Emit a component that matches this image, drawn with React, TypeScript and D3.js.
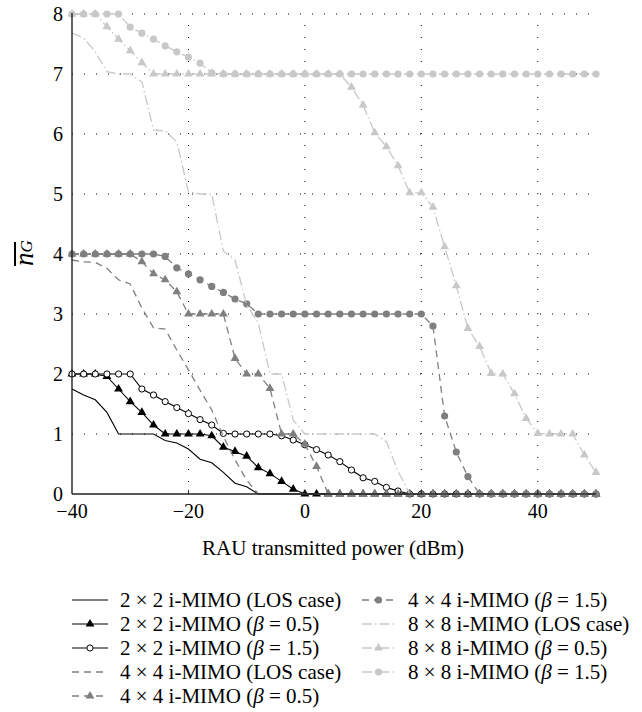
import React from "react";
import * as d3 from "d3";

const svgWidth = 642;
const svgHeight = 712;
const plot = { left: 72, right: 596, top: 14, bottom: 494 };
const font = '"Liberation Serif", "Times New Roman", "DejaVu Serif", serif';

const xScale = d3.scaleLinear([-40, 50], [plot.left, plot.right]);
const yScale = d3.scaleLinear([0, 8], [plot.bottom, plot.top]);

// RAU transmitted power (dBm), one sample every 2 dB
const powers = [
  -40, -38, -36, -34, -32, -30, -28, -26, -24, -22, -20, -18, -16, -14, -12,
  -10, -8, -6, -4, -2, 0, 2, 4, 6, 8, 10, 12, 14, 16, 18, 20, 22, 24, 26, 28,
  30, 32, 34, 36, 38, 40, 42, 44, 46, 48, 50,
];

const xTicks = [-40, -20, 0, 20, 40];
const yTicks = [0, 1, 2, 3, 4, 5, 6, 7, 8];
const xGrid = [-20, 0, 20, 40];
const yGrid = [1, 2, 3, 4, 5, 6, 7, 8];

const mimo2Los = [
  1.75, 1.65, 1.57, 1.36, 1.0, 1.0, 1.0, 1.0, 0.89, 0.85, 0.75, 0.58, 0.52,
  0.36, 0.18, 0.12, 0, 0, 0, 0, 0, 0, 0, 0, 0, 0, 0, 0, 0, 0, 0, 0, 0, 0, 0,
  0, 0, 0, 0, 0, 0, 0, 0, 0, 0, 0,
];
const mimo2B05 = [
  2, 2, 2, 1.96, 1.75, 1.54, 1.36, 1.15, 1.0, 1.0, 1.0, 1.0, 0.97, 0.78, 0.71,
  0.63, 0.44, 0.34, 0.21, 0.08, 0, 0, 0, 0, 0, 0, 0, 0, 0, 0, 0, 0, 0, 0, 0,
  0, 0, 0, 0, 0, 0, 0, 0, 0, 0, 0,
];
const mimo2B15 = [
  2, 2, 2, 2, 2, 2, 1.75, 1.65, 1.54, 1.44, 1.34, 1.24, 1.15, 1.01, 1, 1, 1,
  1, 0.97, 0.9, 0.82, 0.74, 0.65, 0.54, 0.4, 0.27, 0.21, 0.11, 0.05, 0, 0, 0,
  0, 0, 0, 0, 0, 0, 0, 0, 0, 0, 0, 0, 0, 0,
];
const mimo4Los = [
  3.9, 3.87, 3.86, 3.76, 3.57, 3.5, 3.1, 2.77, 2.75, 2.4, 2.07, 1.73, 1.4,
  0.96, 0.57, 0.23, 0, 0, 0, 0, 0, 0, 0, 0, 0, 0, 0, 0, 0, 0, 0, 0, 0, 0, 0,
  0, 0, 0, 0, 0, 0, 0, 0, 0, 0, 0,
];
const mimo4B05 = [
  4, 4, 4, 4, 4, 4, 3.87, 3.67, 3.57, 3.37, 3.0, 3, 3, 3, 2.26, 2.0, 2.0, 1.76,
  1.0, 1.0, 0.83, 0.46, 0, 0, 0, 0, 0, 0, 0, 0, 0, 0, 0, 0, 0, 0, 0, 0, 0, 0,
  0, 0, 0, 0, 0, 0,
];
const mimo4B15 = [
  4, 4, 4, 4, 4, 4, 4, 4, 3.96, 3.77, 3.67, 3.57, 3.46, 3.36, 3.25, 3.17, 3.0,
  3, 3, 3, 3, 3, 3, 3, 3, 3, 3, 3, 3, 3, 3, 2.8, 1.3, 0.7, 0.29, 0, 0, 0, 0, 0,
  0, 0, 0, 0, 0, 0,
];
const mimo8Los = [
  7.68, 7.6, 7.37, 7.04, 7.0, 7.0, 6.87, 6.07, 6.05, 5.87, 5.04, 5.0, 5.0,
  4.05, 3.9, 3.15, 2.85, 2.0, 2.0, 1.23, 1.0, 1, 1, 1, 1, 1, 1.0, 0.87, 0.38,
  0, 0, 0, 0, 0, 0, 0, 0, 0, 0, 0, 0, 0, 0, 0, 0, 0,
];
const mimo8B05 = [
  8, 8, 8, 7.79, 7.58, 7.39, 7.19, 7.0, 7, 7, 7, 7, 7, 7, 7, 7, 7, 7, 7, 7, 7,
  7, 7, 7, 6.78, 6.48, 6.02, 5.79, 5.47, 5.02, 5.02, 4.78, 4.12, 3.47, 2.76,
  2.46, 2.01, 2.0, 1.67, 1.26, 1.01, 1.0, 1.0, 1.0, 0.65, 0.36,
];
const mimo8B15 = [
  8, 8, 8, 8, 8, 7.78, 7.68, 7.58, 7.47, 7.37, 7.28, 7.18, 7.02, 7, 7, 7, 7, 7,
  7, 7, 7, 7, 7, 7, 7, 7, 7, 7, 7, 7, 7, 7, 7, 7, 7, 7, 7, 7, 7, 7, 7, 7, 7, 7,
  7, 7,
];

const legendSizes = [
  "2 × 2", "2 × 2", "2 × 2", "4 × 4", "4 × 4", "4 × 4", "8 × 8", "8 × 8", "8 × 8",
];
const legendCases = ["LOS", "0.5", "1.5", "LOS", "0.5", "1.5", "LOS", "0.5", "1.5"];

const black = "#000";
const midGrey = "#7f7f7f";
const lightGrey = "#c8c8c8";
const dashed = "7,5";
const dashDot = "10,3,1.5,3";

type Series = {
  values: number[];
  color: string;
  dash: string | null;
  marker: "none" | "triangle" | "circle" | "open";
};

const series: Series[] = [
  { values: mimo2Los, color: black, dash: null, marker: "none" },
  { values: mimo2B05, color: black, dash: null, marker: "triangle" },
  { values: mimo2B15, color: black, dash: null, marker: "open" },
  { values: mimo4Los, color: midGrey, dash: dashed, marker: "none" },
  { values: mimo4B05, color: midGrey, dash: dashed, marker: "triangle" },
  { values: mimo4B15, color: midGrey, dash: dashed, marker: "circle" },
  { values: mimo8Los, color: lightGrey, dash: dashDot, marker: "none" },
  { values: mimo8B05, color: lightGrey, dash: dashDot, marker: "triangle" },
  { values: mimo8B15, color: lightGrey, dash: dashDot, marker: "circle" },
];

const line = d3
  .line<number>()
  .x((_, i) => xScale(powers[i]))
  .y((d) => yScale(d));

const triangle = d3.symbol(d3.symbolTriangle, 34)();

function Marker({ kind, color, x, y }: { kind: string; color: string; x: number; y: number }) {
  if (kind === "triangle") {
    return <path d={triangle!} transform={`translate(${x},${y})`} fill={color} />;
  }
  if (kind === "circle") {
    return <circle cx={x} cy={y} r={3.6} fill={color} />;
  }
  if (kind === "open") {
    return <circle cx={x} cy={y} r={3.1} fill="#fff" stroke={color} strokeWidth={1} />;
  }
  return null;
}

function LegendLabel({ size, kase, x, y }: { size: string; kase: string; x: number; y: number }) {
  return (
    <text x={x} y={y} dy="0.35em" fontSize={21}>
      {size} i-MIMO (
      {kase === "LOS" ? (
        "LOS case"
      ) : (
        <>
          <tspan fontStyle="italic">β</tspan> = {kase}
        </>
      )}
      )
    </text>
  );
}

export default function App() {
  const rowGap = 24;
  const legendTop = 600;
  const cols = [
    { x0: 72, x1: 108, tx: 120 },
    { x0: 362, x1: 395, tx: 408 },
  ];

  return (
    <svg
      width={svgWidth}
      height={svgHeight}
      style={{ position: "absolute", left: 0, top: 0, background: "#fff", fontFamily: font }}
    >
      {/* grid */}
      <g stroke="#000" strokeWidth={1} strokeDasharray="1,11">
        {yGrid.map((v) => (
          <line key={`h${v}`} x1={plot.left} x2={590} y1={yScale(v)} y2={yScale(v)} />
        ))}
        {xGrid.map((v) => (
          <line key={`v${v}`} x1={xScale(v)} x2={xScale(v)} y1={plot.bottom} y2={plot.top} />
        ))}
      </g>

      {/* series */}
      {series.map((s, si) => (
        <g key={si}>
          <path
            d={line(s.values)!}
            fill="none"
            stroke={s.color}
            strokeWidth={s.color === black ? 1.1 : 1.3}
            strokeDasharray={s.dash ?? undefined}
          />
          {s.marker !== "none" &&
            s.values.map((v, i) => (
              <Marker key={i} kind={s.marker} color={s.color} x={xScale(powers[i])} y={yScale(v)} />
            ))}
        </g>
      ))}

      {/* axes */}
      <g stroke="#222" strokeWidth={1.4}>
        <line x1={plot.left} x2={plot.left} y1={plot.top - 1} y2={plot.bottom} />
        <line x1={plot.left} x2={plot.right} y1={plot.bottom} y2={plot.bottom} />
        {xGrid.map((v) => (
          <line key={v} x1={xScale(v)} x2={xScale(v)} y1={plot.bottom} y2={plot.bottom - 4} strokeWidth={1} />
        ))}
      </g>

      <g fontSize={20} fill="#000">
        {xTicks.map((v) => (
          <text key={v} x={xScale(v)} y={plot.bottom + 24} textAnchor="middle">
            {v < 0 ? `−${Math.abs(v)}` : v}
          </text>
        ))}
        {yTicks.map((v) => (
          <text key={v} x={plot.left - 9} y={yScale(v)} dy="0.33em" textAnchor="end">
            {v}
          </text>
        ))}
        <text x={333} y={555} textAnchor="middle" fontSize={21}>
          RAU transmitted power (dBm)
        </text>
      </g>

      {/* y label: n-bar sub G */}
      <g transform="translate(33,266) rotate(-90)">
        <text x={0} y={0} fontStyle="italic">
          <tspan fontSize={27}>n</tspan>
          <tspan fontSize={17} dy={-1}>G</tspan>
        </text>
        <line x1={0} x2={24} y1={-18} y2={-18} stroke="#000" strokeWidth={2} />
      </g>

      {/* legend */}
      {series.map((s, i) => {
        const col = i < 5 ? cols[0] : cols[1];
        const row = i < 5 ? i : i - 5;
        const y = legendTop + row * rowGap;
        const mid = (col.x0 + col.x1) / 2;
        return (
          <g key={`lg${i}`}>
            <line
              x1={col.x0}
              x2={col.x1}
              y1={y}
              y2={y}
              stroke={s.color}
              strokeWidth={s.color === black ? 1.2 : 1.3}
              strokeDasharray={s.dash ?? undefined}
            />
            <Marker kind={s.marker} color={s.color} x={mid} y={y} />
            <LegendLabel size={legendSizes[i]} kase={legendCases[i]} x={col.tx} y={y} />
          </g>
        );
      })}
    </svg>
  );
}
